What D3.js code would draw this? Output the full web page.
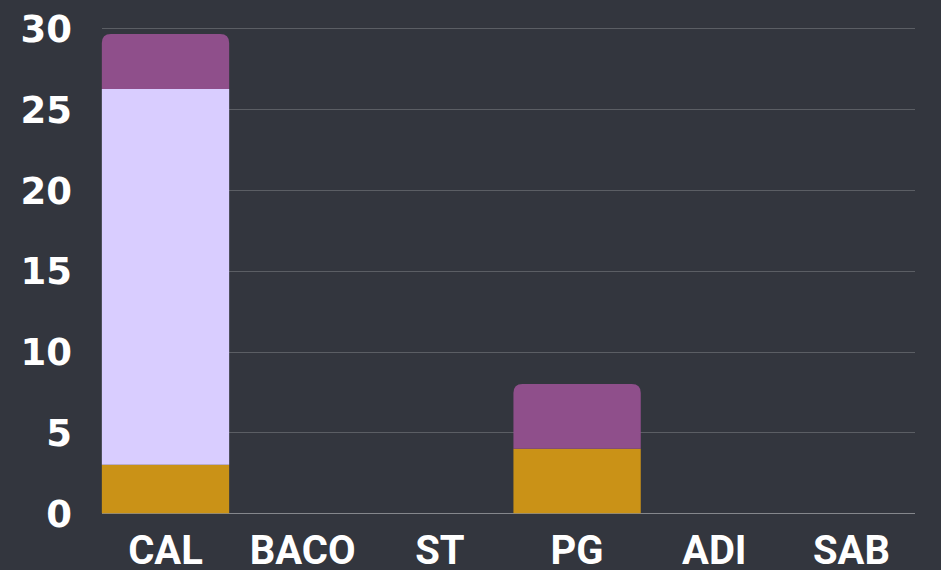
<!DOCTYPE html>
<html><head><meta charset="utf-8">
<script src="https://cdn.jsdelivr.net/npm/d3@7"></script>
<style>
html,body{margin:0;padding:0;background:#33363e;}
svg{display:block;}
</style></head>
<body>
<svg id="chart" width="941" height="570"></svg>
<script>
const categories = ["CAL", "BACO", "ST", "PG", "ADI", "SAB"];
const seriesNames = ["Series A", "Series B", "Series C"];
const seriesA = [3, 0, 0, 4, 0, 0];
const seriesB = [23.25, 0, 0, 0, 0, 0];
const seriesC = [3.4, 0, 0, 4, 0, 0];
const seriesColors = ["#ca9217", "#d9cdff", "#8f4f8b"];
const yTicks = [0, 5, 10, 15, 20, 25, 30];

const W = 941, H = 570;
const svg = d3.select("#chart");
const gridLeft = 102, gridRight = 915;
const y = d3.scaleLinear().domain([0, 30]).range([513.3, 28.3]);
const x = d3.scaleBand().domain(categories).range([96.9, 920.1]).paddingInner(0.072).paddingOuter(0.036);

// gridlines
svg.append("g").selectAll("line").data(yTicks).join("line")
  .attr("x1", gridLeft).attr("x2", gridRight)
  .attr("y1", d => Math.round(y(d)) + 0.5).attr("y2", d => Math.round(y(d)) + 0.5)
  .attr("stroke", d => d === 0 ? "#85878c" : "#5b5e64")
  .attr("stroke-width", 1);

// y labels
svg.append("g").selectAll("text").data(yTicks).join("text")
  .attr("x", 72).attr("y", d => y(d))
  .attr("dy", "0.37em")
  .attr("text-anchor", "end")
  .attr("fill", "#ffffff")
  .attr("font-family", "'DejaVu Sans', sans-serif").attr("font-weight", "bold").attr("font-size", 37)
  .text(d => d);

// x labels
svg.append("g").selectAll("text").data(categories).join("text")
  .attr("x", d => x(d) + x.bandwidth() / 2).attr("y", 563.5)
  .attr("text-anchor", "middle")
  .attr("fill", "#ffffff")
  .attr("font-family", "Roboto, sans-serif").attr("font-weight", "bold").attr("font-size", 40)
  .text(d => d);

// stacked bars
const rows = categories.map((c, i) => ({cat: c, s0: seriesA[i], s1: seriesB[i], s2: seriesC[i]}));
const stack = d3.stack().keys(["s0", "s1", "s2"]);
const layers = stack(rows);
const r = 9;
function topIndex(i) {
  let t = -1;
  layers.forEach((L, k) => { if (L[i][1] - L[i][0] > 0) t = k; });
  return t;
}
layers.forEach((layer, k) => {
  svg.append("g").selectAll("path").data(layer.map((d, i) => ({d, i}))).join("path")
    .filter(o => o.d[1] - o.d[0] > 0)
    .attr("fill", seriesColors[k])
    .attr("d", o => {
      const x0 = x(categories[o.i]), x1 = x0 + x.bandwidth();
      const yb = y(o.d[0]), yt = y(o.d[1]);
      if (topIndex(o.i) === k) {
        const rr = Math.min(r, (yb - yt));
        return `M${x0},${yb}L${x0},${yt + rr}Q${x0},${yt} ${x0 + rr},${yt}L${x1 - rr},${yt}Q${x1},${yt} ${x1},${yt + rr}L${x1},${yb}Z`;
      }
      return `M${x0},${yb}L${x0},${yt}L${x1},${yt}L${x1},${yb}Z`;
    });
});
</script>
</body></html>
